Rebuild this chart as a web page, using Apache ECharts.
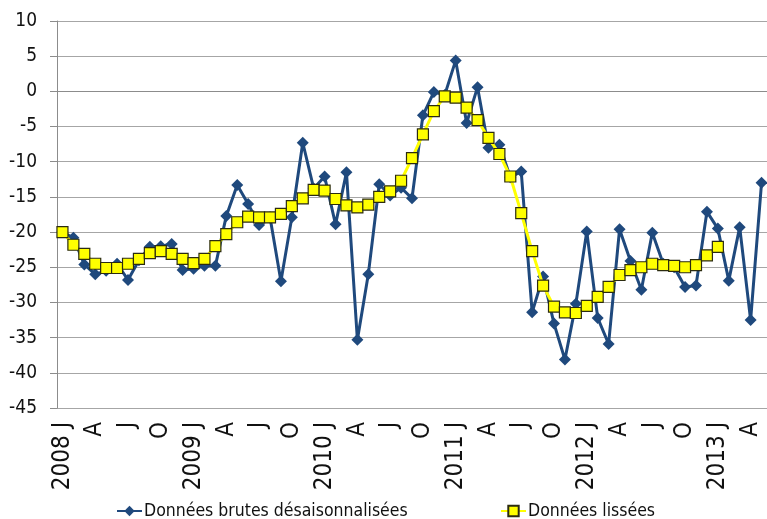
<!DOCTYPE html>
<html>
<head>
<meta charset="utf-8">
<script src="https://cdn.jsdelivr.net/npm/echarts@6/dist/echarts.min.js"></script>
<style>
  html, body { margin: 0; padding: 0; background: #fff; }
  #chart { width: 767px; height: 519px; }
</style>
</head>
<body>
<div id="chart"></div>
<script>
// libellés de l'axe : une lettre par mois, l'année devant janvier
const years = [2008, 2009, 2010, 2011, 2012, 2013]
const monthLetters = ['J', 'F', 'M', 'A', 'M', 'J', 'J', 'A', 'S', 'O', 'N', 'D']
const nbMonths = 65 // janv. 2008 -> mai 2013

// données brutes désaisonnalisées
const brutes = [
  -20.0, -20.8, -24.6, -26.0, -25.5, -24.5, -26.8, -24.0, -22.1, -22.0, -21.7, -25.4,
  -25.2, -24.8, -24.8, -17.7, -13.3, -16.0, -19.0, -17.9, -27.0, -17.9, -7.3, -13.8,
  -12.1, -18.9, -11.5, -35.3, -26.0, -13.2, -14.8, -13.7, -15.2, -3.4, -0.1, -0.5,
  4.4, -4.5, 0.6, -8.0, -7.6, -12.2, -11.4, -31.4, -26.3, -33.0, -38.1, -30.2,
  -19.9, -32.2, -35.9, -19.6, -24.1, -28.2, -20.1, -24.5, -25.0, -27.8, -27.6, -17.1,
  -19.5, -26.9, -19.3, -32.5, -13.0
]

// données lissées (s'arrêtent en janvier 2013)
const lissees = [
  -20.0, -21.8, -23.1, -24.5, -25.1, -25.1, -24.5, -23.8, -23.0, -22.7, -23.1, -23.8,
  -24.4, -23.8, -22.0, -20.3, -18.6, -17.8, -17.9, -17.9, -17.4, -16.3, -15.2, -14.0,
  -14.1, -15.3, -16.2, -16.5, -16.1, -15.0, -14.2, -12.7, -9.5, -6.1, -2.8, -0.7,
  -0.9, -2.3, -4.1, -6.6, -8.9, -12.1, -17.3, -22.7, -27.6, -30.6, -31.4, -31.5,
  -30.5, -29.2, -27.8, -26.1, -25.4, -25.0, -24.5, -24.7, -24.8, -25.0, -24.7, -23.3,
  -22.1
]

const categories = []
for (let i = 0; i < nbMonths; i++) {
  const m = i % 12
  categories.push(m === 0 ? years[i / 12] + ' J' : monthLetters[m])
}

const font = '"Liberation Sans Narrow", "Arial Narrow", "DejaVu Sans Condensed", sans-serif'
const blue = '#1f497d'

const chart = echarts.init(document.getElementById('chart'))

chart.setOption({
  animation: false,
  textStyle: { fontFamily: font, color: '#111' },
  grid: { left: 57, right: -10, top: 21, bottom: 111, containLabel: false },
  legend: [
    {
      left: 116, top: 502, padding: 0,
      itemWidth: 25, itemHeight: 13, itemGap: 2,
      textStyle: { fontFamily: font, fontSize: 17.5, color: '#111', padding: [0, 0, 0, -3] },
      data: ['Données brutes désaisonnalisées']
    },
    {
      left: 500, top: 502, padding: 0,
      itemWidth: 25, itemHeight: 13, itemGap: 2,
      textStyle: { fontFamily: font, fontSize: 17.5, color: '#111', padding: [0, 0, 0, -3] },
      data: ['Données lissées']
    }
  ],
  xAxis: {
    type: 'category',
    data: categories,
    boundaryGap: true,
    axisLine: { lineStyle: { color: '#8c8c8c', width: 1 } },
    axisTick: { show: false },
    axisLabel: {
      interval: 2,
      rotate: 90,
      margin: 14,
      fontFamily: font,
      fontSize: 24,
      color: '#111'
    },
    splitLine: { show: false }
  },
  yAxis: {
    type: 'value',
    min: -45,
    max: 10,
    interval: 5,
    axisLine: { show: true, lineStyle: { color: '#8c8c8c', width: 1 } },
    axisTick: { show: true, length: 7, lineStyle: { color: '#8c8c8c' } },
    axisLabel: { margin: 20, fontFamily: font, fontSize: 19, color: '#111' },
    splitLine: { lineStyle: { color: '#a6a6a6', width: 1 } }
  },
  series: [
    {
      name: 'Données brutes désaisonnalisées',
      type: 'line',
      data: brutes,
      symbol: 'diamond',
      symbolSize: 12,
      showAllSymbol: true,
      lineStyle: { color: blue, width: 3 },
      itemStyle: { color: blue },
      z: 2
    },
    {
      name: 'Données lissées',
      type: 'line',
      data: lissees,
      symbol: 'rect',
      symbolSize: 11,
      showAllSymbol: true,
      lineStyle: { color: '#ffff00', width: 3 },
      itemStyle: { color: '#ffff00', borderColor: '#2b2b10', borderWidth: 1.2 },
      z: 3
    }
  ]
})
</script>
</body>
</html>
